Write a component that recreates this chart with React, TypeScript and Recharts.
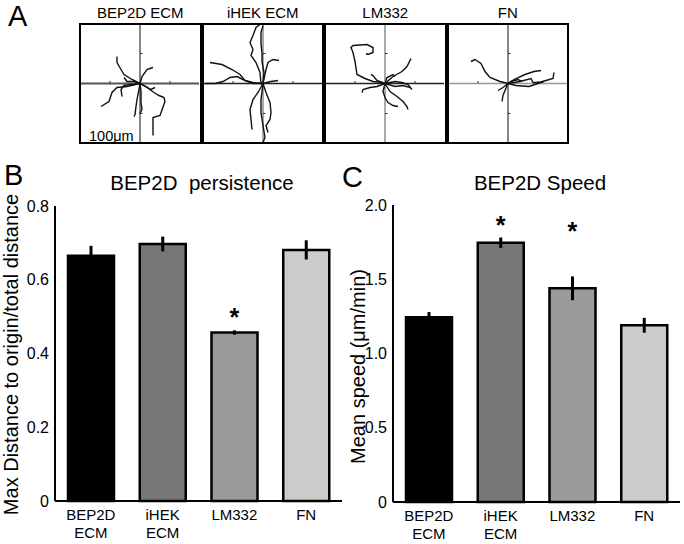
import React from "react";
import {
  Bar,
  Cell,
  ComposedChart,
  ErrorBar,
  Label,
  ReferenceLine,
  Scatter,
  ScatterChart,
  XAxis,
  YAxis,
} from "recharts";

const FONT = '"Liberation Sans", Arial, Helvetica, sans-serif';

// panel B / C data
const categories = ["BEP2D ECM", "iHEK ECM", "LM332", "FN"];
const barColors = ["#000000", "#777777", "#9a9a9a", "#cbcbcb"];
const persistence = [0.665, 0.697, 0.457, 0.681];
const persistenceErr = [0.027, 0.02, 0.006, 0.026];
const persistenceStar = [null, null, 0.512, null];
const persistenceTicks = [0, 0.2, 0.4, 0.6, 0.8];
const speed = [1.244, 1.746, 1.439, 1.19];
const speedErr = [0.035, 0.035, 0.08, 0.05];
const speedStar = [null, 1.9, 1.86, null];
const speedTicks = [0, 0.5, 1.0, 1.5, 2.0];

// panel A: cell tracks, x/y relative to start point (um)
const bep2dTracks = [
  [[0, 0], [-8, 4], [-16, 9], [-19, 14], [-23, 21], [-23, 27]],
  [[0, 0], [2, 7], [7, 14], [10, 15], [13, 16]],
  [[0, 0], [-13, -3], [-23, -4], [-28, -9], [-31, -18], [-39, -23]],
  [[0, 0], [7, -4], [14, -9], [19, -12], [24, -14], [25, -18], [20, -32], [13, -34], [13, -52]],
  [[0, 0], [-1, -6], [-3, -16], [-4, -23], [-5, -31], [-6, -33]],
  [[0, 0], [1, -8], [1, -19], [2, -26], [0, -30]],
  [[0, 0], [-9, -1], [-16, -2], [-19, -6], [-18, -13]],
  [[0, 0], [6, -3], [11, -6], [15, -4]],
  [[0, 0], [-6, 2], [-13, 2], [-16, 6]],
];
const ihekTracks = [
  [[0, 0], [-2, 0], [-3, 11], [-7, 21], [-12, 28], [-10, 34], [-13, 41], [-10, 48], [-7, 56], [-3, 59]],
  [[0, 0], [3, 14], [5, 21], [10, 24], [16, 23]],
  [[0, 0], [1, 11], [-1, 22], [-1, 30], [-2, 40], [-2, 51], [0, 58]],
  [[0, 0], [-5, -9], [-10, -16], [-13, -26], [-12, -36], [-11, -46]],
  [[0, 0], [3, -9], [7, -19], [8, -29], [7, -36], [3, -42], [5, -49]],
  [[0, 0], [-2, -16], [-2, -29], [0, -42], [2, -54], [0, -59]],
  [[0, 0], [-10, 1], [-18, 3], [-23, 9], [-31, 14], [-41, 19], [-53, 21]],
  [[0, 0], [-10, 0], [-18, 3], [-26, 7], [-33, 6], [-40, 2], [-48, 0], [-58, 0]],
  [[0, 0], [8, 2], [15, 3]],
];
const lm332Tracks = [
  [[0, 0], [-3, 1], [-12, 2], [-20, 5], [-28, 9], [-30, 22], [-32, 31], [-34, 36], [-32, 38], [-18, 39], [-12, 36], [-12, 31], [-17, 29], [-19, 30]],
  [[0, 0], [8, 7], [17, 12], [22, 17], [26, 25]],
  [[0, 0], [10, 2], [17, 1], [23, -1], [27, -6]],
  [[0, 0], [5, -8], [12, -13], [18, -18], [22, -23], [23, -26]],
  [[0, 0], [-2, -8], [0, -14], [3, -19], [8, -22], [13, -23]],
  [[0, 0], [-8, -3], [-15, -4], [-22, -6], [-23, -9]],
  [[0, 0], [2, 6], [8, 9], [10, 7]],
  [[0, 0], [-8, 3], [-12, 8], [-14, 9]],
  [[0, 0], [10, -3], [18, -2], [25, -4]],
];
const fnTracks = [
  [[0, 0], [-8, 2], [-18, 6], [-23, 12], [-27, 20], [-33, 24], [-37, 22]],
  [[0, 0], [12, 2], [23, 5], [25, 1], [31, 1], [38, 3], [45, 5], [46, 11]],
  [[0, 0], [6, 4], [17, 9], [26, 12], [33, 13]],
  [[0, 0], [8, -2], [21, -3], [30, 0], [36, 2]],
  [[0, 0], [-3, -7], [-5, -12], [-6, -18]],
  [[0, 0], [-5, -4], [-10, -7]],
  [[0, 0], [3, 2], [10, 4], [14, 2]],
];
const trackTitles = ["BEP2D ECM", "iHEK ECM", "LM332", "FN"];
const crossTicks = [-30, 30];

const boxes = [
  { tracks: bep2dTracks, h: { stroke: "#555", w: 2 }, v: { stroke: "#111", w: 1 } },
  { tracks: ihekTracks, h: { stroke: "#222", w: 1.5 }, v: { stroke: "#555", w: 1 } },
  { tracks: lm332Tracks, h: { stroke: "#222", w: 1.5 }, v: { stroke: "#555", w: 1 } },
  { tracks: fnTracks, h: { stroke: "#999", w: 1.5 }, v: { stroke: "#111", w: 1 } },
];

function TrackBox({ index }: { index: number }) {
  const b = boxes[index];
  return (
    <div
      style={{
        position: "absolute",
        left: 79 + index * 122.5,
        top: 23,
        width: 122.5,
        height: 121,
        boxSizing: "border-box",
        border: "2px solid #000",
      }}
    >
      <ScatterChart width={118} height={117} margin={{ top: 0, right: 0, bottom: 0, left: 0 }}>
        <XAxis type="number" dataKey="x" domain={[-59, 59]} hide allowDataOverflow />
        <YAxis type="number" dataKey="y" domain={[-58.5, 58.5]} hide allowDataOverflow />
        <ReferenceLine y={0} stroke={b.h.stroke} strokeWidth={b.h.w} />
        <ReferenceLine x={0} stroke={b.v.stroke} strokeWidth={b.v.w} />
        {crossTicks.map((t) => (
          <ReferenceLine
            key={"h" + t}
            segment={[{ x: t, y: 0 }, { x: t, y: 2.5 }]}
            stroke="#333"
            strokeWidth={1}
          />
        ))}
        {crossTicks.map((t) => (
          <ReferenceLine
            key={"v" + t}
            segment={[{ x: 0, y: t }, { x: 2.5, y: t }]}
            stroke="#333"
            strokeWidth={1}
          />
        ))}
        {b.tracks.map((tr, i) => (
          <Scatter
            key={i}
            data={tr.map(([x, y]) => ({ x, y }))}
            line={{ stroke: "#111", strokeWidth: 1.4 }}
            lineType="joint"
            shape={() => <g />}
            isAnimationActive={false}
          />
        ))}
      </ScatterChart>
    </div>
  );
}

const CategoryTick = (props: any) => {
  const { x, y, payload } = props;
  const lines = String(payload.value).split(" ");
  return (
    <text x={x} y={y} textAnchor="middle" fontSize={15} fontFamily={FONT} fill="#000">
      {lines.map((l, i) => (
        <tspan key={i} x={x} dy={i === 0 ? 19 : 18}>
          {l}
        </tspan>
      ))}
    </text>
  );
};

const StarShape = (props: any) => {
  const { cx, cy, payload } = props;
  if (payload.star == null || !isFinite(cy)) return <g />;
  return (
    <text
      x={cx}
      y={cy + 14}
      textAnchor="middle"
      fontSize={25}
      fontWeight="bold"
      fontFamily={FONT}
      fill="#000"
    >
      *
    </text>
  );
};

function BarPanel({
  left,
  width,
  axisWidth,
  values,
  errs,
  stars,
  ticks,
  yLabel,
  labelX,
  labelDy,
  rightMargin,
  topMargin,
  xAxisHeight,
}: any) {
  const data = categories.map((name, i) => ({
    name,
    value: values[i],
    err: errs[i],
    star: stars[i],
  }));
  return (
    <div style={{ position: "absolute", left, top: 160 }}>
      <ComposedChart
        width={width}
        height={384}
        data={data}
        margin={{ top: topMargin, right: rightMargin, bottom: 0, left: 0 }}
      >
        <XAxis
          dataKey="name"
          height={xAxisHeight}
          axisLine={{ stroke: "#000", strokeWidth: 2 }}
          tickLine={false}
          tickSize={0}
          tickMargin={0}
          interval={0}
          tick={<CategoryTick />}
        />
        <YAxis
          type="number"
          width={axisWidth}
          domain={[ticks[0], ticks[ticks.length - 1]]}
          ticks={ticks}
          interval={0}
          axisLine={{ stroke: "#000", strokeWidth: 2 }}
          tickLine={false}
          tickSize={0}
          tickMargin={6}
          tickFormatter={(v: number) => (v === 0 ? "0" : v.toFixed(1))}
          tick={{ fill: "#000", fontSize: 16, fontFamily: FONT }}
        >
          <Label
            content={(p: any) => {
              const vb = p.viewBox;
              const cx = vb.x + labelX;
              const cy = vb.y + vb.height / 2 + labelDy;
              return (
                <text
                  x={cx}
                  y={cy}
                  transform={`rotate(-90 ${cx} ${cy})`}
                  textAnchor="middle"
                  fontSize={20}
                  fontFamily={FONT}
                  fill="#000"
                >
                  {yLabel}
                </text>
              );
            }}
          />
        </YAxis>
        <Bar dataKey="value" barSize={46} stroke="#000" strokeWidth={2.5} isAnimationActive={false}>
          {data.map((d, i) => (
            <Cell key={d.name} fill={barColors[i]} />
          ))}
          <ErrorBar dataKey="err" width={0} strokeWidth={3} stroke="#000" direction="y" />
        </Bar>
        <Scatter dataKey="star" shape={<StarShape />} isAnimationActive={false} />
      </ComposedChart>
    </div>
  );
}

export default function App() {
  return (
    <div
      style={{
        position: "absolute",
        left: 0,
        top: 0,
        width: 684,
        height: 544,
        background: "#fff",
        fontFamily: FONT,
      }}
    >
      {boxes.map((_, i) => (
        <TrackBox key={i} index={i} />
      ))}
      <BarPanel
        left={0}
        width={350}
        axisWidth={55}
        values={persistence}
        errs={persistenceErr}
        stars={persistenceStar}
        ticks={persistenceTicks}
        yLabel="Max Distance to origin/total distance"
        labelX={18}
        labelDy={1}
        rightMargin={8}
        topMargin={46}
        xAxisHeight={43}
      />
      <BarPanel
        left={340}
        width={344}
        axisWidth={53}
        values={speed}
        errs={speedErr}
        stars={speedStar}
        ticks={speedTicks}
        yLabel="Mean speed (μm/min)"
        labelX={25}
        labelDy={13}
        rightMargin={4}
        topMargin={45}
        xAxisHeight={42}
      />
      <svg
        width={684}
        height={544}
        style={{ position: "absolute", left: 0, top: 0, pointerEvents: "none" }}
        fontFamily={FONT}
      >
        <text x={8} y={26} fontSize={29} fill="#000">A</text>
        <text x={4} y={185} fontSize={29} fill="#000">B</text>
        <text x={342} y={187} fontSize={29} fill="#000">C</text>
        {trackTitles.map((t, i) => (
          <text key={t} x={140.25 + i * 122.5} y={18} textAnchor="middle" fontSize={15} fill="#000">
            {t}
          </text>
        ))}
        <text x={89} y={141} fontSize={14.5} fill="#000">100μm</text>
        <text x={202} y={190} textAnchor="middle" fontSize={20.5} fill="#000" style={{ whiteSpace: "pre" }}>
          {"BEP2D  persistence"}
        </text>
        <text x={540} y={190} textAnchor="middle" fontSize={20.5} fill="#000">
          BEP2D Speed
        </text>
      </svg>
    </div>
  );
}
